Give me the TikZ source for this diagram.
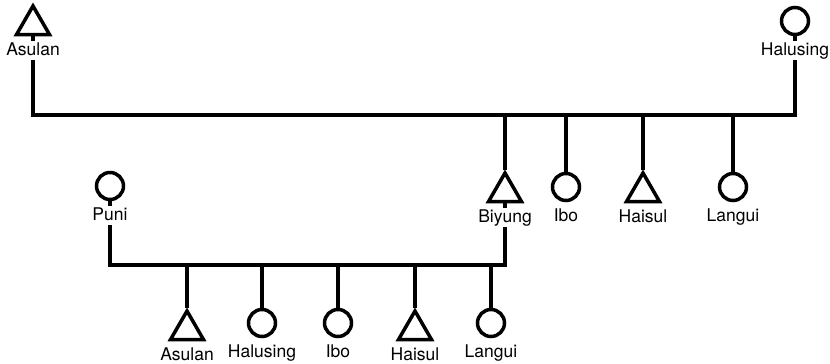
\documentclass[tikz,border=0pt]{standalone}
\usepackage{fontspec}
\setmainfont{TeX Gyre Heros}
\usetikzlibrary{positioning,shapes.geometric}
\tikzset{
  male/.style={draw, line width=3.5pt, regular polygon, regular polygon sides=3, inner sep=0pt, minimum size=38pt},
  female/.style={draw, line width=3.5pt, circle, inner sep=0pt, minimum size=27pt},
  plabel/.style={fill=white, inner sep=1.5pt, text height=12.5pt, text depth=3.5pt, font=\fontsize{17.5}{20}\selectfont},
  kin/.style={line width=3.5pt}
}
\begin{document}
\begin{tikzpicture}[x=1pt,y=-1pt]
      \useasboundingbox (0,0) rectangle (830,364);
      % parents
      \node[male] (asulan1) at (33,25) {};
      \node[female] (halusing1) at (795,21) {};
      % children
      \node[male] (biyung) at (505,192) {};
      \node[female] (ibo2) at (566,187) {};
      \node[male] (haisul2) at (643,192) {};
      \node[female] (langui2) at (733,187) {};
      \node[female] (puni) at (110,186) {};
      % grandchildren
      \node[male] (asulan3) at (187,330) {};
      \node[female] (halusing3) at (262,323) {};
      \node[female] (ibo3) at (338,323) {};
      \node[male] (haisul3) at (415,330) {};
      \node[female] (langui3) at (491,323) {};
      \coordinate (bar1) at (400,115);
      \coordinate (bar2) at (300,265);
      \draw[kin] (asulan1.south) |- (bar1) -| (halusing1.south);
      \foreach \c in {biyung, ibo2, haisul2, langui2}
        \draw[kin] (\c.north) -- (\c.north |- bar1);
      \draw[kin] (biyung.south) |- (bar2) -| (puni.south);
      \foreach \c in {asulan3, halusing3, ibo3, haisul3, langui3}
        \draw[kin] (\c.north) -- (\c.north |- bar2);
      % names
      \node[plabel, below=5pt of asulan1] (asulan1l) {Asulan};
      \node[plabel, below=5pt of halusing1] (halusing1l) {Halusing};
      \node[plabel, below=5pt of biyung] (biyungl) {Biyung};
      \node[plabel, below=5pt of ibo2] (ibo2l) {Ibo};
      \node[plabel, below=5pt of haisul2] (haisul2l) {Haisul};
      \node[plabel, below=5pt of langui2] (langui2l) {Langui};
      \node[plabel, below=5pt of puni] (punil) {Puni};
      \node[plabel, below=5pt of asulan3] (asulan3l) {Asulan};
      \node[plabel, below=5pt of halusing3] (halusing3l) {Halusing};
      \node[plabel, below=5pt of ibo3] (ibo3l) {Ibo};
      \node[plabel, below=5pt of haisul3] (haisul3l) {Haisul};
      \node[plabel, below=5pt of langui3] (langui3l) {Langui};
\end{tikzpicture}
\end{document}
